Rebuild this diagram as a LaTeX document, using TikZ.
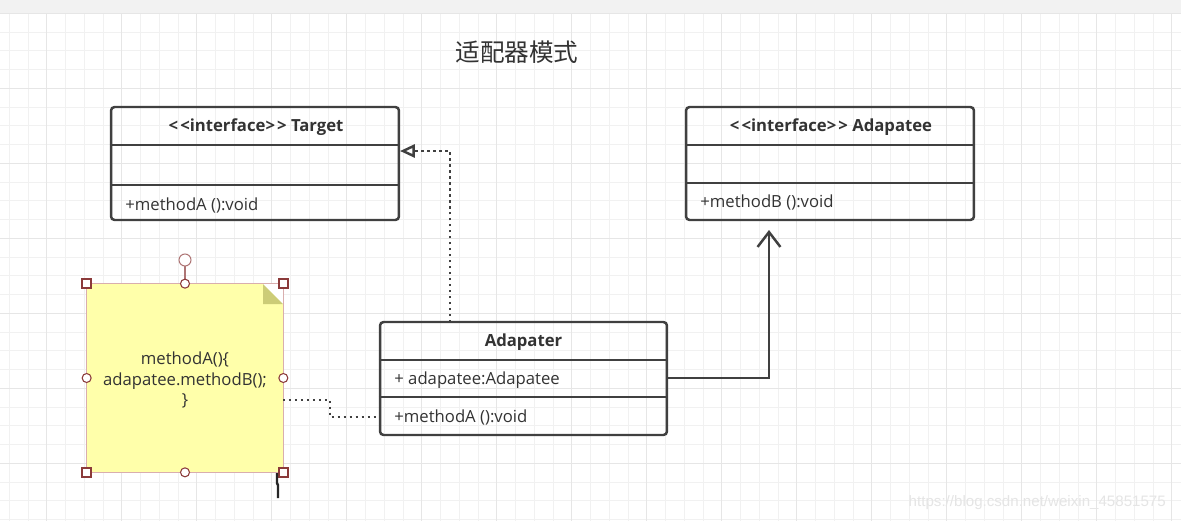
\documentclass[tikz,border=0pt]{standalone}
\usepackage{fontspec}
\setmainfont{Open Sans}
\newfontfamily\cjk{Noto Sans CJK SC}
\newfontfamily\wmfont{Liberation Sans}
\usetikzlibrary{arrows.meta}

\definecolor{boxgray}{HTML}{404040}
\definecolor{txtgray}{HTML}{333333}
\definecolor{notefill}{HTML}{FFFFAA}
\definecolor{notefold}{HTML}{CCCC77}
\definecolor{selred}{HTML}{8B3A3A}
\definecolor{selpink}{HTML}{D9AEAE}
\definecolor{gridminor}{HTML}{F1F1F1}
\definecolor{gridmajor}{HTML}{E6E6E6}

\newcommand{\stereo}[1]{\textless\kern1.2pt\textless#1\textgreater\kern1.2pt\textgreater}

\tikzset{
  classbox/.style={draw=boxgray,line width=1.4pt,rounded corners=2pt,minimum width=5.76cm,minimum height=2.26cm,inner sep=0pt},
  divider/.style={draw=boxgray,line width=1.4pt},
  headtext/.style={font=\fontsize{9.5}{11}\selectfont\bfseries,text=txtgray,inner sep=0pt},
  membertext/.style={font=\fontsize{9.5}{11}\selectfont,text=txtgray,anchor=west,inner sep=0pt},
  dotline/.style={draw=boxgray,line width=1.5pt,dash pattern=on 1.4pt off 2pt},
  handlesq/.style={draw=selred,fill=white,line width=0.8pt,minimum size=0.18cm,inner sep=0pt},
  handlecirc/.style={draw=selred,fill=white,line width=0.6pt,circle,minimum size=0.18cm,inner sep=0pt}
}

\begin{document}
\begin{tikzpicture}[x=0.02cm,y=-0.02cm]
  \useasboundingbox (0,0) rectangle (1181,521);
  % canvas
  \fill[white] (0,0) rectangle (1181,521);
  \fill[gray!10] (0,0) rectangle (1181,13);
  \foreach \k in {0,...,62}
    \draw[gridminor,line width=0.5pt] ({9.2+18.75*\k},13) -- ({9.2+18.75*\k},521);
  \foreach \k in {0,...,27}
    \draw[gridminor,line width=0.5pt] (0,{13.3+18.75*\k}) -- (1181,{13.3+18.75*\k});
  \foreach \k in {0,...,15}
    \draw[gridmajor,line width=0.8pt] ({46.7+75*\k},13) -- ({46.7+75*\k},521);
  \foreach \k in {0,...,6}
    \draw[gridmajor,line width=0.8pt] (0,{13.3+75*\k}) -- (1181,{13.3+75*\k});

  % title
  \node[text=txtgray,font=\cjk\fontsize{14}{16}\selectfont] (title) at (517,52) {适配器模式};

  % Target
  \node[classbox] (target) at (255,163.5) {};
  \draw[divider] (target.west |- 0,145) -- (target.east |- 0,145);
  \draw[divider] (target.west |- 0,185) -- (target.east |- 0,185);
  \node[headtext] (targethead) at (256,127.5) {\stereo{interface} Target};
  \node[membertext] (targetop) at (125,205.5) {+methodA ():void};

  % Adapatee
  \node[classbox] (adaptee) at (830,163.5) {};
  \draw[divider] (adaptee.west |- 0,145) -- (adaptee.east |- 0,145);
  \draw[divider] (adaptee.west |- 0,183) -- (adaptee.east |- 0,183);
  \node[headtext] (adapteehead) at (831,127.5) {\stereo{interface} Adapatee};
  \node[membertext] (adapteeop) at (700,202.5) {+methodB ():void};

  % Adapater
  \node[classbox,minimum width=5.74cm] (adapter) at (523.5,378.5) {};
  \draw[divider] (adapter.west |- 0,360) -- (adapter.east |- 0,360);
  \draw[divider] (adapter.west |- 0,397) -- (adapter.east |- 0,397);
  \node[headtext] (adapterhead) at (523.5,342.5) {Adapater};
  \node[membertext] (adapterattr) at (394,380.5) {+ adapatee:Adapatee};
  \node[membertext] (adapterop) at (394,417) {+methodA ():void};

  % note
  \node[fill=notefill,minimum width=3.92cm,minimum height=3.76cm,inner sep=0pt] (note) at (185,378) {};
  \fill[white] (263,284) -- (283,284) -- (283,304) -- cycle;
  \fill[notefold] (263,284) -- (283,304) -- (263,304) -- cycle;
  \draw[selpink,line width=0.5pt] (note.north west) rectangle (note.south east);
  \node[text=txtgray,font=\fontsize{9.5}{11.4}\selectfont,align=center] (notetext) at (185,380)
    {methodA()\{\\adapatee.methodB();\\\}};
  \draw[selred!70,line width=0.6pt] (note.north) -- (185,266);
  \node[handlecirc,draw=selred!70,minimum size=0.24cm] (rothandle) at (185,260) {};
  \foreach \a in {north west,north east,south west,south east}
    \node[handlesq] at (note.\a) {};
  \foreach \a in {north,south,west,east}
    \node[handlecirc] at (note.\a) {};

  % connectors
  \coordinate (inhstart) at (450,322);
  \coordinate (inhend) at (400,151);
  \draw[dotline,-{Triangle[open,length=8.5pt,width=7.5pt,line width=1.4pt]}] (inhstart) |- (inhend);
  \coordinate (assocstart) at (667,378);
  \coordinate (assocend) at (769,230);
  \draw[draw=boxgray,line width=1.4pt,-{Straight Barb[length=8.5pt,width=13pt,line width=1.4pt]}] (assocstart) -| (assocend);
  \coordinate (notestart) at (283,400);
  \coordinate (notebend) at (330,400);
  \draw[dotline] (notestart) -- (notebend) |- (adapterop.west -| adapter.west);

  % cursor
  \draw[black!85,line width=1.4pt] (277,473) -- (277,483) -- (278,485) -- (278,498);

  % watermark
  \node[text=gray!20,font=\wmfont\fontsize{8.6}{10}\selectfont,anchor=east] (mark) at (1172,503)
    {https://blog.csdn.net/weixin\_45851575};
\end{tikzpicture}
\end{document}
